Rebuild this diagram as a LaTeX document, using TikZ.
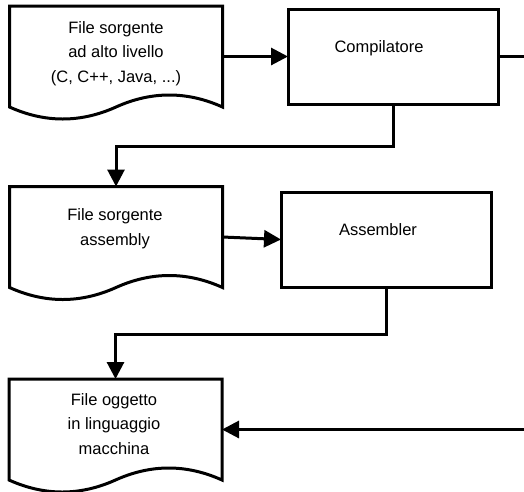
\documentclass[tikz,border=0pt]{standalone}
\usepackage{fontspec}
\setmainfont{Liberation Sans}
\usetikzlibrary{arrows.meta,calc}
\tikzset{
  outline/.style={line width=3pt, draw=black, line join=miter},
  docnode/.style={rectangle, inner sep=0pt, outer sep=0pt, minimum width=213pt, minimum height=101pt},
  procbox/.style={rectangle, draw=black, line width=3pt, fill=white, inner sep=0pt, outer sep=0pt, minimum width=210pt, minimum height=95pt},
  lbl/.style={align=center, inner sep=0pt, font=\fontsize{16.5pt}{24.5pt}\selectfont},
  conn/.style={line width=3pt, draw=black},
  arr/.style={conn, -{Triangle[length=17pt,width=17pt]}}
}
\newcommand{\docoutline}[1]{%
  \draw[outline] (#1.south east) -- (#1.north east) -- (#1.north west) -- (#1.south west)
    .. controls ($(#1.south west)!1/6!(#1.south east)+(0,16)$) and ($(#1.south west)!1/3!(#1.south east)+(0,16)$) .. ($(#1.south west)!1/2!(#1.south east)$)
    .. controls ($(#1.south west)!2/3!(#1.south east)+(0,-16)$) and ($(#1.south west)!5/6!(#1.south east)+(0,-16)$) .. (#1.south east) -- cycle;%
}
\begin{document}
\begin{tikzpicture}[x=1pt,y=-1pt]
\useasboundingbox (0,0) rectangle (524,491);
% documents
\node[docnode] (d1) at (116,56.5) {};
\node[docnode] (d2) at (116,237) {};
\node[docnode] (d3) at (115.5,429.5) {};
\docoutline{d1}
\docoutline{d2}
\docoutline{d3}
\node[lbl] (t1) at (116,53.5) {File sorgente\\ad alto livello\\(C, C++, Java, ...)};
\node[lbl] (t2) at (115,228.5) {File sorgente\\assembly};
\node[lbl] (t3) at (114,424) {File oggetto\\in linguaggio\\macchina};
% process boxes
\node[procbox] (comp) at (393,56.5) {};
\node[lbl] (tc) at (379,48) {Compilatore};
\node[procbox] (asm) at (386,239.5) {};
\node[lbl] (ta) at (378,230) {Assembler};
% free ends at right edge
\coordinate (r1) at (527,56.5);
\coordinate (r2) at (527,429.5);
% connectors
\draw[arr] (d1.east) -- (comp.west);
\draw[conn] (comp.east) -- (r1);
\draw[arr] (comp.south) -- (393,146) -| (d2.north);
\draw[arr] (d2.east) -- (asm.west);
\draw[arr] (asm.south) -- (386,334) -| (d3.north);
\draw[arr] (r2) -- (d3.east);
\end{tikzpicture}
\end{document}
